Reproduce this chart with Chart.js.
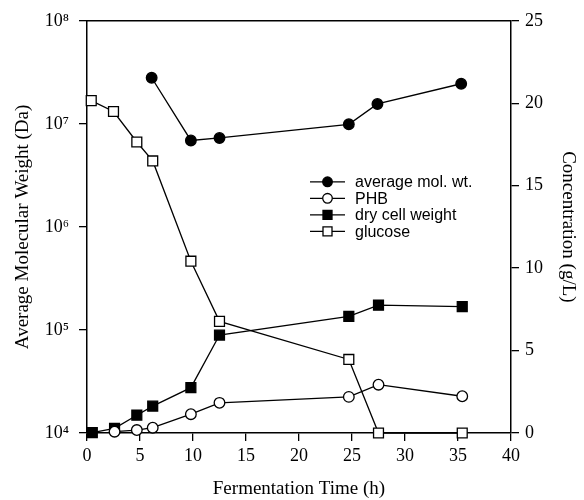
<!DOCTYPE html>
<html>
<head>
<meta charset="utf-8">
<script src="https://cdn.jsdelivr.net/npm/chart.js@4/dist/chart.umd.min.js"></script>
<style>
	html, body { margin: 0; padding: 0; background: #fff; }
	#caixa { width: 584px; height: 500px; }
</style>
</head>
<body>
<div id="caixa"><canvas id="grafico"></canvas></div>
<script>
// valores
const tempoMolWt = [6.1, 9.8, 12.5, 24.7, 27.4, 35.3];
const molWt = [2.8e7, 6.9e6, 7.3e6, 9.9e6, 1.56e7, 2.45e7];

const tempoPHB = [2.6, 4.7, 6.2, 9.8, 12.5, 24.7, 27.5, 35.4];
const phb = [0.08, 0.18, 0.32, 1.14, 1.83, 2.19, 2.93, 2.23];

const tempoDCW = [0.5, 2.6, 4.7, 6.2, 9.8, 12.5, 24.7, 27.5, 35.4];
const dcw = [0.02, 0.28, 1.08, 1.63, 2.75, 5.94, 7.07, 7.75, 7.67];

const tempoGlicose = [0.4, 2.5, 4.7, 6.2, 9.8, 12.5, 24.7, 27.5, 35.4];
const glicose = [20.16, 19.5, 17.65, 16.5, 10.42, 6.77, 4.46, 0, 0];

const ticksMolWt = [1e4, 1e5, 1e6, 1e7, 1e8];
const rotulosMolWt = ['10\u2074', '10\u2075', '10\u2076', '10\u2077', '10\u2078'];

const nomesSeries = ['average mol. wt.', 'PHB', 'dry cell weight', 'glucose'];

function montaPontos(tempos, valores) {
	return tempos.map((t, i) => ({ x: t, y: valores[i] }));
}

function montaSerie(nome, pontos, eixoY, estilo, preenchimento) {
	return {
		label: nome,
		data: pontos,
		yAxisID: eixoY,
		borderColor: '#000',
		borderWidth: 1.3,
		pointStyle: estilo,
		pointRadius: estilo === 'rect' ? 7 : 5.3,
		pointBackgroundColor: preenchimento,
		pointBorderColor: '#000',
		pointBorderWidth: 1.3,
		tension: 0,
		clip: false
	};
}

// legenda desenhada dentro da area do grafico, com linha + marcador
const legendaInterna = {
	id: 'legendaInterna',
	afterDraw(chart) {
		const ctx = chart.ctx;
		const area = chart.chartArea;
		ctx.save();
		// linha superior da moldura
		ctx.strokeStyle = '#000';
		ctx.lineWidth = 1.5;
		ctx.beginPath();
		ctx.moveTo(area.left, area.top);
		ctx.lineTo(area.right, area.top);
		ctx.stroke();

		const x0 = area.left + 223;
		const xTexto = area.left + 268;
		const marcadores = [['circle', '#000'], ['circle', '#fff'], ['rect', '#000'], ['rect', '#fff']];
		nomesSeries.forEach((nome, i) => {
			const y = area.top + 161 + i * 16.5;
			ctx.lineWidth = 1.3;
			ctx.strokeStyle = '#000';
			ctx.beginPath();
			ctx.moveTo(x0, y);
			ctx.lineTo(x0 + 35, y);
			ctx.stroke();
			ctx.fillStyle = marcadores[i][1];
			ctx.beginPath();
			if (marcadores[i][0] === 'circle') {
				ctx.arc(x0 + 17.5, y, 4.8, 0, Math.PI * 2);
			} else {
				ctx.rect(x0 + 17.5 - 4.5, y - 4.5, 9, 9);
			}
			ctx.fill();
			ctx.stroke();
			ctx.fillStyle = '#000';
			ctx.font = '16px "Liberation Sans", Arial, sans-serif';
			ctx.textBaseline = 'middle';
			ctx.fillText(nome, xTexto, y + 1);
		});
		ctx.restore();
	}
};

function montaChart() {
	const ctx = document.getElementById('grafico');
	const fonteEixo = { family: '"Liberation Serif", "Times New Roman", serif', size: 18 };
	const fonteTitulo = { family: '"Liberation Serif", "Times New Roman", serif', size: 19 };
	const grade = { drawOnChartArea: false, drawTicks: true, tickLength: 8, color: '#000', lineWidth: 1.3 };
	const borda = { display: true, color: '#000', width: 1.5 };

	return new Chart(ctx, {
		type: 'line',
		data: {
			datasets: [
				montaSerie(nomesSeries[0], montaPontos(tempoMolWt, molWt), 'y', 'circle', '#000'),
				montaSerie(nomesSeries[1], montaPontos(tempoPHB, phb), 'y2', 'circle', '#fff'),
				montaSerie(nomesSeries[2], montaPontos(tempoDCW, dcw), 'y2', 'rect', '#000'),
				montaSerie(nomesSeries[3], montaPontos(tempoGlicose, glicose), 'y2', 'rect', '#fff')
			]
		},
		options: {
			responsive: true,
			maintainAspectRatio: false,
			animation: false,
			layout: { padding: { top: 18, left: 0, right: 0, bottom: 0 } },
			scales: {
				x: {
					type: 'linear',
					min: 0,
					max: 40,
					grid: grade,
					border: borda,
					ticks: { stepSize: 5, color: '#000', font: fonteEixo, padding: 4, maxRotation: 0 },
					title: { display: true, text: 'Fermentation Time (h)', color: '#000', font: fonteTitulo, padding: 0 },
					afterFit: (eixo) => { eixo.height = 67; }
				},
				y: {
					type: 'logarithmic',
					position: 'left',
					min: 1e4,
					max: 1e8,
					grid: grade,
					border: borda,
					afterBuildTicks: (eixo) => { eixo.ticks = ticksMolWt.map(v => ({ value: v, major: true })); },
					ticks: {
						color: '#000',
						font: fonteEixo,
						padding: 10,
						callback: (valor) => rotulosMolWt[ticksMolWt.indexOf(valor)]
					},
					title: { display: true, text: 'Average Molecular Weight (Da)', color: '#000', font: fonteTitulo, padding: { top: 12 } },
					afterFit: (eixo) => { eixo.width = 87; }
				},
				y2: {
					type: 'linear',
					position: 'right',
					min: 0,
					max: 25,
					grid: grade,
					border: borda,
					ticks: { stepSize: 5, color: '#000', font: fonteEixo, padding: 6 },
					title: { display: true, text: 'Concentration (g/L)', color: '#000', font: fonteTitulo, padding: { top: 5 } },
					afterFit: (eixo) => { eixo.width = 73; }
				}
			},
			plugins: {
				legend: { display: false },
				tooltip: { enabled: false }
			}
		},
		plugins: [legendaInterna]
	});
}

window.onload = () => {
	montaChart();
}
</script>
</body>
</html>
